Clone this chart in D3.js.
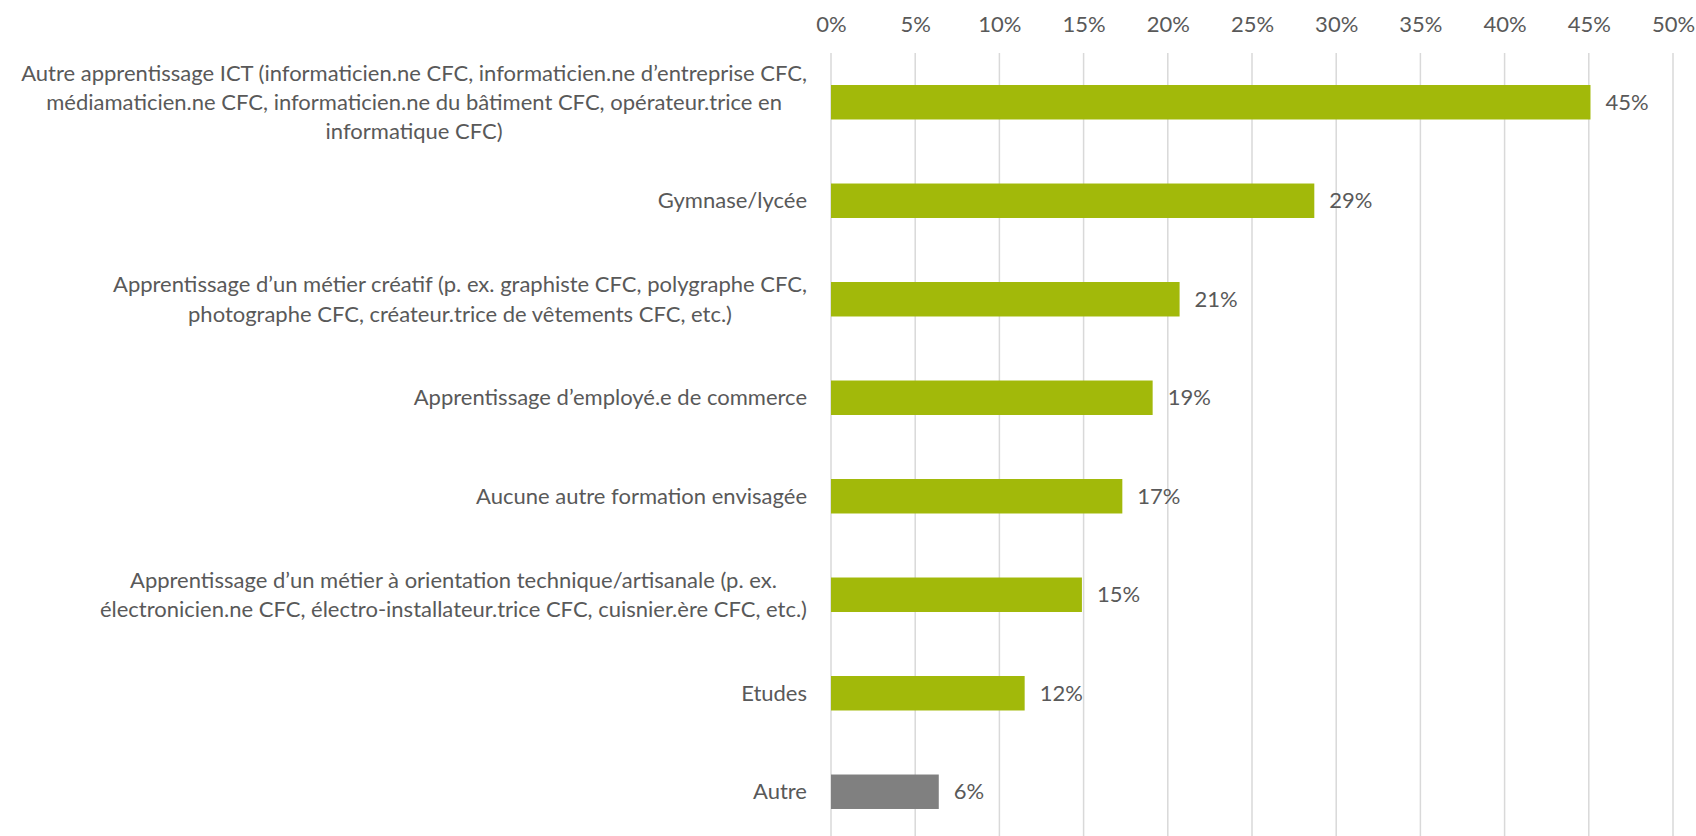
<!DOCTYPE html>
<html>
<head>
<meta charset="utf-8">
<script src="https://cdn.jsdelivr.net/npm/d3@7"></script>
<style>
  body { margin: 0; background: #fff; }
  text { font-family: Lato, "Open Sans", sans-serif; fill: #595959; }
</style>
</head>
<body>
<div id="chart"></div>
<script>
(function () {

  // category labels, one entry per line
  var categories = [
    ["Autre apprentissage ICT (informaticien.ne CFC, informaticien.ne d\u2019entreprise CFC,",
     "médiamaticien.ne CFC, informaticien.ne du bâtiment CFC, opérateur.trice en",
     "informatique CFC)"],
    ["Gymnase/lycée"],
    ["Apprentissage d\u2019un métier créatif (p. ex. graphiste CFC, polygraphe CFC,",
     "photographe CFC, créateur.trice de vêtements CFC, etc.)"],
    ["Apprentissage d\u2019employé.e de commerce"],
    ["Aucune autre formation envisagée"],
    ["Apprentissage d\u2019un métier à orientation technique/artisanale (p. ex.",
     "électronicien.ne CFC, électro-installateur.trice CFC, cuisnier.ère CFC, etc.)"],
    ["Etudes"],
    ["Autre"]
  ]
  var values = [45.1, 28.7, 20.7, 19.1, 17.3, 14.9, 11.5, 6.4]
  var valueLabels = ["45%", "29%", "21%", "19%", "17%", "15%", "12%", "6%"]
  var isOther = [false, false, false, false, false, false, false, true]
  var ticks = [0, 5, 10, 15, 20, 25, 30, 35, 40, 45, 50]

  var width = 1696, height = 836
  var fontSize = 22

  var svg = d3.select("#chart").append("svg")
      .attr("width", width)
      .attr("height", height)

  var x = d3.scaleLinear()
    .domain([0, 50])
    .range([831, 1673])

  var y = d3.scaleBand()
    .domain(d3.range(categories.length))
    .range([53, 841])
    .paddingInner(0.65)
    .paddingOuter(0.325)

  // gridlines
  svg.append("g")
    .selectAll("line")
    .data(ticks)
    .enter().append("line")
    .attr("x1", function (d) { return x(d) })
    .attr("x2", function (d) { return x(d) })
    .attr("y1", 53)
    .attr("y2", height)
    .attr("stroke", "#d9d9d9")
    .attr("stroke-width", 1.5)

  // top axis labels
  var xAxis = d3.axisTop(x)
    .tickValues(ticks)
    .tickFormat(function (d) { return d + "%" })
    .tickSize(0)
    .tickPadding(0)

  var ax = svg.append("g")
    .attr("transform", "translate(0,32)")
    .call(xAxis)
  ax.select(".domain").remove()
  ax.selectAll("text")
    .style("font-family", "Lato, sans-serif")
    .attr("font-size", fontSize)
    .attr("fill", "#595959")

  // bars
  svg.selectAll(".bar")
    .data(values)
    .enter().append("rect")
    .attr("class", "bar")
    .attr("x", x(0))
    .attr("y", function (d, i) { return y(i) })
    .attr("width", function (d) { return x(d) - x(0) })
    .attr("height", y.bandwidth())
    .attr("fill", function (d, i) { return isOther[i] ? "#808080" : "#a2b90a" })

  // value labels
  svg.selectAll(".val")
    .data(values)
    .enter().append("text")
    .attr("class", "val")
    .attr("x", function (d) { return x(d) + 15 })
    .attr("y", function (d, i) { return y(i) + y.bandwidth() / 2 })
    .attr("dy", "0.35em")
    .attr("font-size", fontSize)
    .text(function (d, i) { return valueLabels[i] })

  // category labels: centred block, right edge near axis
  var lineH = 29.2
  var rightEdge = 807
  categories.forEach(function (lines, i) {
    var cy = y(i) + y.bandwidth() / 2
    var g = svg.append("g")
    var t = g.selectAll("text")
      .data(lines)
      .enter().append("text")
      .attr("font-size", fontSize)
      .attr("text-anchor", "middle")
      .attr("y", function (d, j) { return cy + (j - (lines.length - 1) / 2) * lineH })
      .attr("dy", "0.35em")
      .text(function (d) { return d })
    var w = d3.max(t.nodes(), function (n) { return n.getComputedTextLength() })
    t.attr("x", rightEdge - w / 2)
  })

})()
</script>
</body>
</html>
